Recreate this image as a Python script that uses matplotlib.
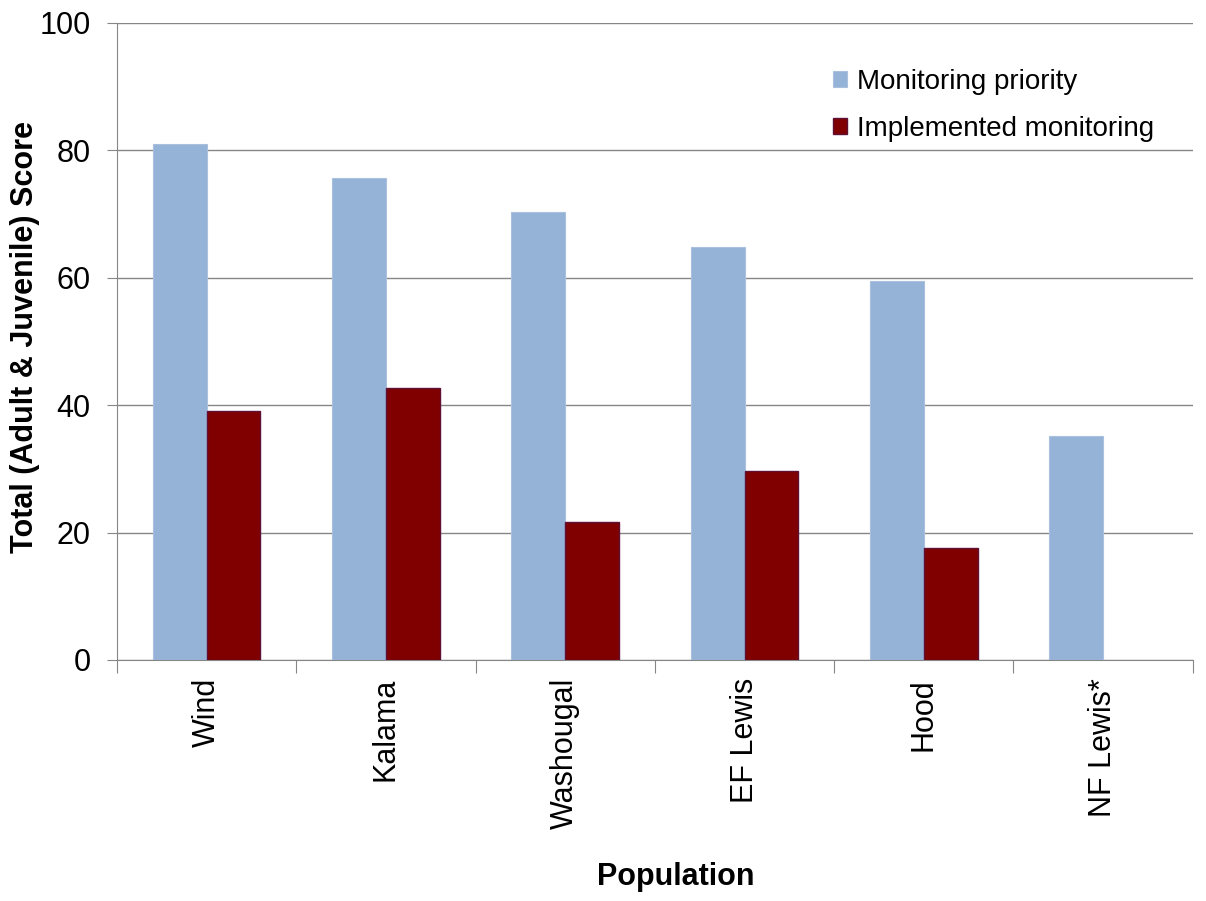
import matplotlib.pyplot as plt
import numpy as np

populations = ['Wind', 'Kalama', 'Washougal', 'EF Lewis', 'Hood', 'NF Lewis*']
priority = [81.0, 75.7, 70.3, 64.9, 59.5, 35.1]
implemented = [39.1, 42.7, 21.7, 29.7, 17.6, 0]

plt.rcParams['font.family'] = ['Liberation Sans', 'DejaVu Sans']

fig = plt.figure(figsize=(12.06, 9.01), dpi=100)
ax = fig.add_axes([0.097, 0.2675, 0.892, 0.707])

x = np.arange(len(populations))
w = 0.3
ax.bar(x - w / 2, priority, w, color='#95B3D7', edgecolor='#a9c1df', linewidth=0.8,
       label='Monitoring priority', zorder=3)
# no outline on empty bars
lw = [1 if v > 0 else 0 for v in implemented]
ax.bar(x + w / 2, implemented, w, color='#800000', edgecolor='#5e1035', linewidth=lw,
       label='Implemented monitoring', zorder=3)

ax.set_xlim(-0.5, len(populations) - 0.5)
ax.set_ylim(0, 100)
ax.set_yticks(range(0, 101, 20))
ax.yaxis.grid(True, color='#868686', linewidth=1, zorder=0)

# ticks at category boundaries, labels at the centres
ax.set_xticks(np.arange(-0.5, len(populations), 1))
ax.set_xticklabels([])
ax.set_xticks(x, minor=True)
ax.set_xticklabels(populations, minor=True, rotation=90, fontsize=22)
ax.tick_params(axis='x', which='minor', length=0, pad=13)
ax.tick_params(axis='x', which='major', length=9, color='#868686', direction='out')
ax.tick_params(axis='y', length=7, color='#868686', labelsize=22, pad=12)

for s in ['top', 'right']:
    ax.spines[s].set_visible(False)
ax.spines['left'].set_color('#868686')
ax.spines['bottom'].set_color('#868686')

fig.text(0.021, 0.626, 'Total (Adult & Juvenile) Score', fontsize=22, fontweight='bold',
         rotation=90, ha='center', va='center')
fig.text(0.56, 0.01, 'Population', fontsize=22, fontweight='bold', ha='center', va='bottom')

ax.legend(loc='upper right', bbox_to_anchor=(0.987, 0.967), frameon=False, fontsize=20,
          handlelength=0.5, handleheight=0.5, handletextpad=0.35, labelspacing=0.75)

fig.savefig('out.png', dpi=100)
